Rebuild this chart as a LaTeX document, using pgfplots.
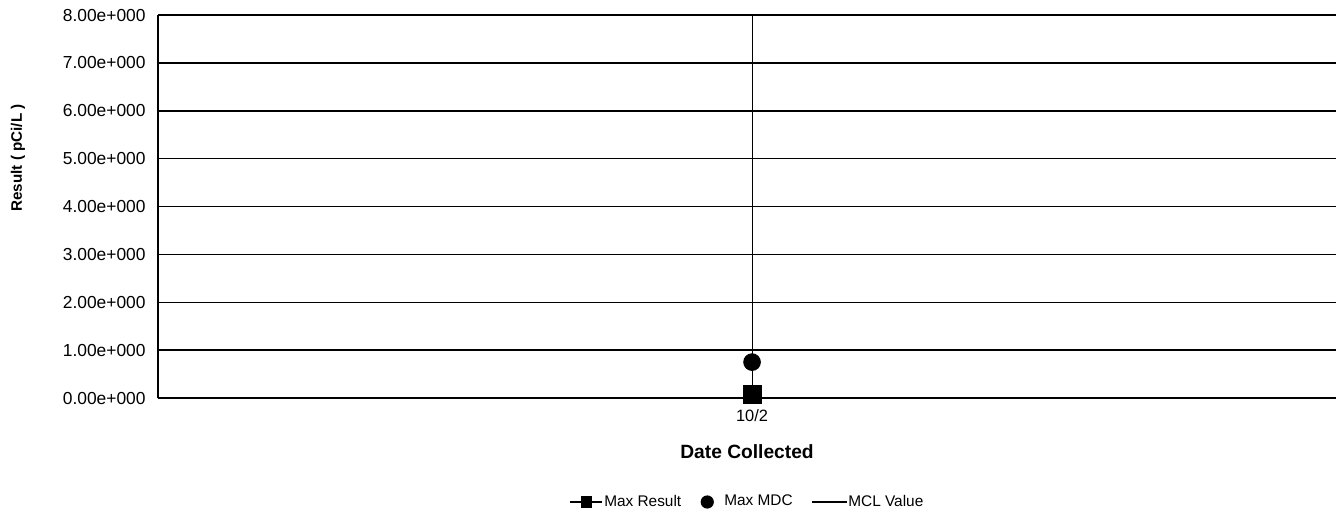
\documentclass[border=0pt]{standalone}
\usepackage{fontspec}
\setmainfont{Liberation Sans}
\usepackage{pgfplots}
\pgfplotsset{compat=1.18}
\begin{document}
\begin{tikzpicture}
\useasboundingbox (-79pt,-56.5pt) rectangle (589pt,199pt);
\begin{axis}[
  at={(0pt,0pt)}, anchor=south west,
  scale only axis, width=589pt, height=191.5pt,
  xmin=-1, xmax=0.983, ymin=0, ymax=8,
  xtick={0}, xticklabels={10/2},
  ytick={0,1,2,3,4,5,6,7,8},
  yticklabels={0.00e+000,1.00e+000,2.00e+000,3.00e+000,4.00e+000,5.00e+000,6.00e+000,7.00e+000,8.00e+000},
  axis lines=left, axis line style={-, black, line width=0.8pt},
  major tick length=0pt,
  ymajorgrids, xmajorgrids,
  y grid style={black, line width=0.75pt},
  x grid style={black, line width=0.5pt},
  yticklabel style={font=\fontsize{8.7}{10}\selectfont, anchor=east, inner sep=0pt, xshift=-6pt},
  xticklabel style={font=\fontsize{8.2}{10}\selectfont, anchor=north, inner sep=0pt, yshift=-5.5pt},
  clip=false,
  legend style={draw=none, fill=none, at={(0.5,-0.2715)}, anchor=center,
    font=\fontsize{7.7}{9}\selectfont, legend columns=3,
    nodes={inner xsep=0.5pt, inner ysep=1pt},
    /tikz/every even column/.append style={column sep=8.5pt}},
  legend cell align=left,
]
\addplot[black, only marks, mark=square*, mark size=4.5pt, forget plot] coordinates {(0,0.08)};
\addplot[black, only marks, mark=*, mark size=4.2pt, forget plot] coordinates {(0,0.75)};
\addlegendimage{legend image code/.code={\draw[black, line width=0.8pt] (0pt,0pt) -- (16pt,0pt); \fill[black] (5.5pt,-2.6pt) rectangle (10.5pt,2.6pt);}}
\addlegendentry{Max Result}
\addlegendimage{legend image code/.code={\fill[black, draw=none] (4pt,0pt) circle (3.3pt); \path[draw=none, fill=none] (0pt,0pt) rectangle (12pt,0pt);}}
\addlegendentry{Max MDC}
\addlegendimage{legend image code/.code={\draw[black, line width=0.8pt] (0pt,0pt) -- (17.5pt,0pt);}}
\addlegendentry{MCL Value}
\end{axis}
\node[font=\fontsize{9.6}{11}\selectfont\bfseries] at (294.5pt,-27pt) {Date Collected};
\node[font=\fontsize{7.6}{9}\selectfont\bfseries, rotate=90] at (-70pt,120pt) {Result ( pCi/L )};
\end{tikzpicture}
\end{document}
